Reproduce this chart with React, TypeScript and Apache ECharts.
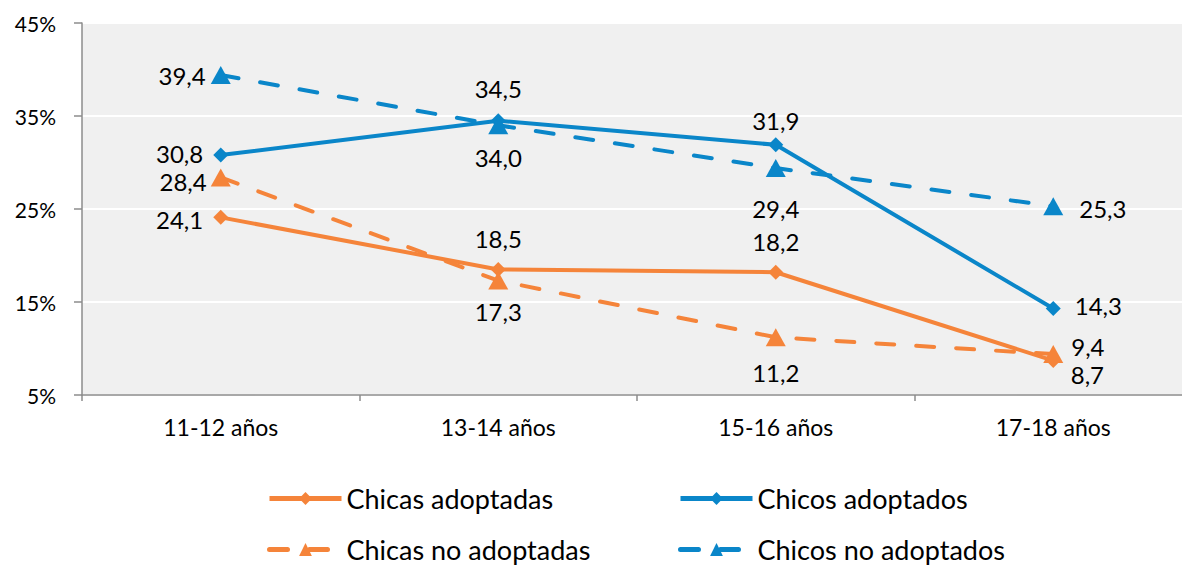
import React, { useEffect, useRef } from "react";
import * as echarts from "echarts";

const categories = ["11-12 años", "13-14 años", "15-16 años", "17-18 años"];
const chicasAdoptadas = [24.1, 18.5, 18.2, 8.7];
const chicosAdoptados = [30.8, 34.5, 31.9, 14.3];
const chicasNoAdoptadas = [28.4, 17.3, 11.2, 9.4];
const chicosNoAdoptados = [39.4, 34.0, 29.4, 25.3];
const seriesNames = ["Chicas adoptadas", "Chicos adoptados", "Chicas no adoptadas", "Chicos no adoptados"];

const ORANGE = "#f5843a";
const BLUE = "#0a86c9";
const FONT = "Lato";

type LP = { pos: string; dist?: number; off: [number, number] };

// label placement per series (styling, not data)
const labelsCA: LP[] = [
  { pos: "left", dist: 10, off: [0, 2] },
  { pos: "inside", off: [0, -31] },
  { pos: "inside", off: [0, -31] },
  { pos: "right", dist: 6, off: [4, 14] },
];
const labelsCO: LP[] = [
  { pos: "left", dist: 10, off: [0, -2] },
  { pos: "inside", off: [0, -32] },
  { pos: "inside", off: [0, -24] },
  { pos: "right", dist: 14, off: [0, -3] },
];
const labelsCNA: LP[] = [
  { pos: "left", dist: 4, off: [0, 4] },
  { pos: "inside", off: [0, 31] },
  { pos: "inside", off: [0, 35] },
  { pos: "right", dist: 4, off: [4, -8] },
];
const labelsCNO: LP[] = [
  { pos: "left", dist: 5, off: [0, 0] },
  { pos: "inside", off: [0, 32] },
  { pos: "inside", off: [0, 40] },
  { pos: "right", dist: 16, off: [0, 2] },
];

function fmt(v: number) {
  return v.toFixed(1).replace(".", ",");
}

function buildData(values: number[], lps: LP[]) {
  return values.map((v, i) => ({
    value: v,
    label: {
      show: true,
      position: lps[i].pos,
      distance: lps[i].dist ?? 5,
      offset: lps[i].off,
      formatter: () => fmt(v),
      color: "#000",
      fontSize: 24,
      fontFamily: FONT,
    },
  }));
}

function makeSeries(name: string, values: number[], lps: LP[], color: string, dashed: boolean) {
  return {
    name,
    type: "line",
    data: buildData(values, lps),
    symbol: dashed ? "triangle" : "diamond",
    symbolSize: dashed ? [20, 18] : [15, 15],
    itemStyle: { color },
    lineStyle: {
      color,
      width: 4,
      type: dashed ? [18, 22] : "solid",
      cap: dashed ? "round" : "butt",
    },
    z: dashed ? 3 : 2,
  };
}

export default function App() {
  const ref = useRef<HTMLDivElement>(null);
  useEffect(() => {
    const chart = echarts.init(ref.current!, undefined, { renderer: "svg" });
    const legendPos = [
      { left: 267, top: 485 },
      { left: 678, top: 485 },
      { left: 267, top: 536 },
      { left: 678, top: 536 },
    ];
    chart.setOption({
      animation: false,
      backgroundColor: "#fff",
      grid: {
        left: 82,
        top: 23,
        bottom: 170,
        right: 8,
        show: true,
        backgroundColor: "#f0f0f0",
        borderWidth: 0,
      },
      legend: seriesNames.map((n, i) => ({
        data: [n],
        left: legendPos[i].left,
        top: legendPos[i].top,
        padding: 0,
        itemWidth: 72,
        itemHeight: 16,
        lineStyle: { width: 5 },
        textStyle: { fontSize: 27, color: "#000", fontFamily: FONT },
        selectedMode: false,
      })),
      xAxis: {
        type: "category",
        data: categories,
        boundaryGap: true,
        axisLine: { lineStyle: { color: "#8c8c8c", width: 1.5 } },
        axisTick: { show: true, length: 6, interval: 0, lineStyle: { color: "#8c8c8c", width: 1.5 } },
        axisLabel: { color: "#000", fontSize: 23, fontFamily: FONT, margin: 20 },
        splitLine: { show: false },
      },
      yAxis: {
        type: "value",
        min: 5,
        max: 45,
        interval: 10,
        axisLine: { show: true, lineStyle: { color: "#8c8c8c", width: 1.5 } },
        axisTick: { show: true, length: 8, lineStyle: { color: "#8c8c8c", width: 1.5 } },
        axisLabel: {
          color: "#000",
          fontSize: 21,
          fontFamily: FONT,
          margin: 26,
          formatter: (v: number) => v + "%",
        },
        splitLine: { show: true, lineStyle: { color: "#ffffff", width: 2 } },
      },
      series: [
        makeSeries(seriesNames[0], chicasAdoptadas, labelsCA, ORANGE, false),
        makeSeries(seriesNames[1], chicosAdoptados, labelsCO, BLUE, false),
        makeSeries(seriesNames[2], chicasNoAdoptadas, labelsCNA, ORANGE, true),
        makeSeries(seriesNames[3], chicosNoAdoptados, labelsCNO, BLUE, true),
      ],
    });
    return () => chart.dispose();
  }, []);
  return (
    <div
      ref={ref}
      style={{ position: "fixed", left: 0, top: 0, width: 1200, height: 565, background: "#fff" }}
    />
  );
}
